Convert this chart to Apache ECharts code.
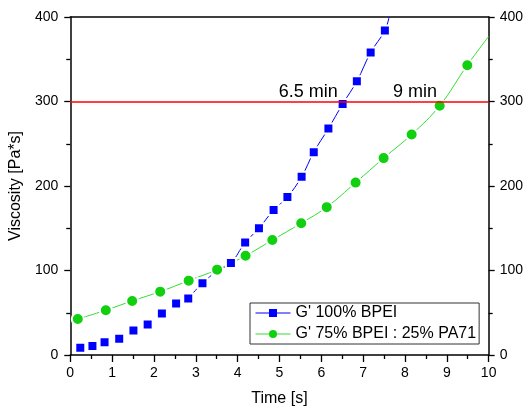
<!DOCTYPE html>
<html><head><meta charset="utf-8">
<script src="https://cdn.jsdelivr.net/npm/echarts@6/dist/echarts.min.js"></script>
<style>html,body{margin:0;padding:0;background:#fff}#c{width:526px;height:415px}</style>
</head><body><div id="c"></div>
<script>
// ---- data ----
const blueName = "G' 100% BPEI";
const greenName = "G' 75% BPEI : 25% PA71";
const blueTime = [0.24,0.53,0.82,1.17,1.51,1.85,2.19,2.53,2.82,3.16,3.51,3.84,4.18,4.51,4.86,5.19,5.53,5.82,6.17,6.51,6.85,7.18,7.52];
const blueVisc = [8.7,10.6,15,19.3,29,36,49,61,67,85,99.4,109,133,150,171.6,187,211,240,268,297,324,358,384];
const blueFitStartIndex = 8;          // fitted curve starts at this point
const blueFitEnd = [7.62, 400];       // curve continues to top of plot
const greenTime = [0.18,0.85,1.48,2.15,2.83,3.51,4.19,4.83,5.52,6.13,6.82,7.49,8.16,8.83,9.49];
const greenVisc = [42.6,53,64,75,88,101,117.5,136,156,175,204,233,261,295,343];
const greenFitEnd = [10, 377];
const thresholdVisc = 300;
const annoText = ['6.5 min', '9 min'];
const annoTime = [5.69, 8.24];
const annoVisc = [311, 311];
const xTicks = {min: 0, max: 10, interval: 1};
const yTicks = {min: 0, max: 400, interval: 100};

// ---- build ----
const FONT = 'Liberation Sans, Arial, sans-serif';
const BLUE = '#0000ff', GREEN = '#10d010', GREENLINE = '#33dd33', RED = '#ff0000';
const bluePts = blueTime.map((t,i)=>[t, blueVisc[i]]);
const greenPts = greenTime.map((t,i)=>[t, greenVisc[i]]);
const blueFit = bluePts.slice(blueFitStartIndex).concat([blueFitEnd]);
const greenFit = greenPts.concat([greenFitEnd]);

function mkAxis(extra, tickLen, minorLen, labelMargin){
  return Object.assign({
    type:'value',
    axisLine:{show:true, onZero:false, lineStyle:{color:'#000000', width:1.5}},
    splitLine:{show:false},
    axisTick:{show:true, inside:false, length:tickLen, lineStyle:{color:'#000000', width:1.3}},
    minorTick:{show:true, splitNumber:2, length:minorLen, lineStyle:{color:'#000000', width:1.3}},
    axisLabel:{show:true, color:'#000000', fontSize:14, fontFamily:FONT, margin:labelMargin}
  }, extra);
}
const chart = echarts.init(document.getElementById('c'), null, {renderer:'canvas'});
chart.setOption({
  animation:false,
  grid:{left:67, right:36, top:17, bottom:60},
  xAxis:[
    mkAxis({position:'bottom', min:xTicks.min, max:xTicks.max, interval:xTicks.interval,
      name:'Time [s]', nameLocation:'middle', nameGap:36,
      nameTextStyle:{fontSize:16, color:'#000000', fontFamily:FONT}}, 7, 4, 11),
    {type:'value', position:'top', min:xTicks.min, max:xTicks.max, interval:xTicks.interval,
      axisLine:{show:true, onZero:false, lineStyle:{color:'#000000', width:1.5}},
      axisTick:{show:false}, axisLabel:{show:false}, splitLine:{show:false}}
  ],
  yAxis:[
    mkAxis({position:'left', min:yTicks.min, max:yTicks.max, interval:yTicks.interval,
      name:'Viscosity [Pa*s]', nameLocation:'middle', nameGap:40,
      nameTextStyle:{fontSize:16, color:'#000000', fontFamily:FONT}}, 6, 4, 12),
    mkAxis({position:'right', min:yTicks.min, max:yTicks.max, interval:yTicks.interval}, 6, 4, 11)
  ],
  legend:{
    orient:'vertical', left:250, top:303,
    data:[blueName, greenName],
    itemWidth:35, itemHeight:10, itemGap:5,
    padding:[2,3,2,5],
    borderColor:'#333333', borderWidth:1, backgroundColor:'#ffffff',
    lineStyle:{width:1},
    itemStyle:{borderWidth:0},
    textStyle:{fontSize:16, color:'#000000', fontFamily:FONT}
  },
  series:[
    {type:'line', data:blueFit, smooth:0.4, showSymbol:false, lineStyle:{color:BLUE, width:1},
      markLine:{silent:true, symbol:['none','none'], label:{show:false},
        lineStyle:{color:RED, width:1.5, type:'solid', opacity:1}, data:[{yAxis:thresholdVisc}]}},
    {type:'line', data:greenFit, smooth:0.4, showSymbol:false, lineStyle:{color:GREENLINE, width:1},
      markPoint:{silent:true, symbol:'circle', symbolSize:0,
        label:{show:true, position:'inside', fontSize:18, color:'#000000', fontFamily:FONT, formatter:p=>p.name},
        data:annoText.map((s,i)=>({name:s, coord:[annoTime[i], annoVisc[i]]}))}},
    {type:'line', name:blueName, data:bluePts, symbol:'rect', symbolSize:10, showAllSymbol:true,
      lineStyle:{width:0, color:BLUE}, itemStyle:{color:BLUE, borderColor:'#ffffff', borderWidth:2}},
    {type:'line', name:greenName, data:greenPts, symbol:'circle', symbolSize:12, showAllSymbol:true,
      lineStyle:{width:0, color:GREENLINE}, itemStyle:{color:GREEN, borderColor:'#ffffff', borderWidth:2}}
  ]
});
</script></body></html>
